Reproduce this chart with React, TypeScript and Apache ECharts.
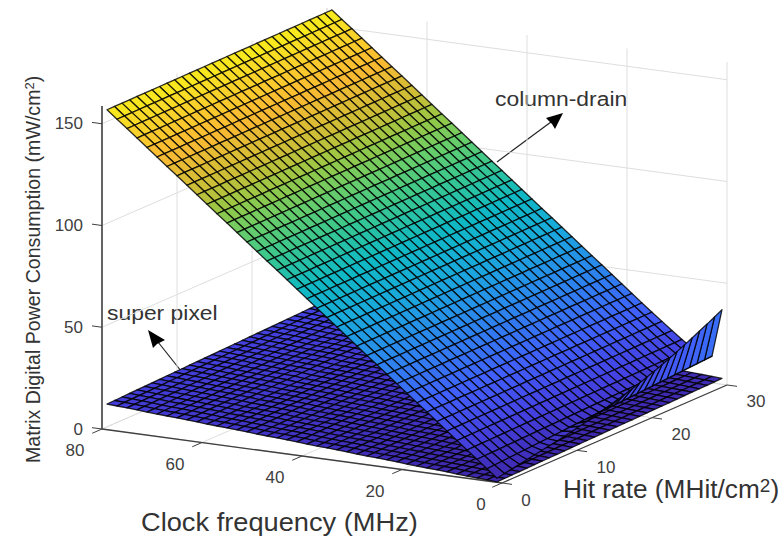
import React, { useEffect, useRef } from "react";
import * as echarts from "echarts";

const clockMesh = [1,3,5,7,9,11,13,15,17,19,21,23,25,27,29,31,33,35,37,39,41,43,45,47,49,51,53,55,57,59,61,63,65,67,69,71,73,75,77,79];
const hitMesh = [0,1,2,3,4,5,6,7,8,9,10,11,12,13,14,15,16,17,18,19,20,21,22,23,24,25,26,27,28,29,30];

// column-drain: value at hit 0 for every clock row, and its rise per unit of hit rate
const drainBase = [2.0,6.0,10,13.9,17.9,21.9,25.9,29.9,33.8,37.8,41.8,45.8,49.8,53.7,57.7,61.7,65.7,69.7,73.6,77.6,81.6,85.6,89.6,93.5,97.5,101.5,105.5,109.5,113.4,117.4,121.4,125.4,129.4,133.3,137.3,141.3,145.3,149.3,153.2,157.2];
const drainRise = [0,0.24,0.11,0.07,0.05,0.04,0.035,0.03,0.03,0.03,0.03,0.03,0.03,0.03,0.03,0.03,0.03,0.03,0.03,0.03,0.03,0.03,0.03,0.03,0.03,0.03,0.03,0.03,0.03,0.03,0.03,0.03,0.03,0.03,0.03,0.03,0.03,0.03,0.03,0.03];
// column-drain along the lowest clock row (the raised strip), by hit rate
const drainLowClock = [2,2.7,3.4,4.1,4.8,5.5,6.1,6.8,7.5,8.2,9,9.9,10.8,11.7,12.7,13.7,14.7,15.8,17,18.3,19.6,21,22.5,24,25.7,27.4,29.2,31,32.8,34.7,36.7];

// super pixel: value at hit 0 for every clock row, and its rise per unit of hit rate
const pixelBase = [0.2,0.5,0.8,1.1,1.4,1.8,2.1,2.4,2.7,3,3.4,3.7,4,4.3,4.6,5,5.3,5.6,5.9,6.2,6.6,6.9,7.2,7.5,7.8,8.2,8.5,8.8,9.1,9.4,9.8,10.1,10.4,10.7,11,11.3,11.7,12,12.3,12.6];
const pixelRise = [0.09,0.09,0.09,0.09,0.09,0.095,0.095,0.095,0.095,0.095,0.1,0.1,0.1,0.1,0.1,0.105,0.105,0.105,0.105,0.105,0.11,0.11,0.11,0.11,0.11,0.115,0.115,0.115,0.115,0.115,0.12,0.12,0.12,0.12,0.12,0.125,0.125,0.125,0.13,0.13];

const clockTicks = [80, 60, 40, 20, 0];
const hitTicks = [0, 10, 20, 30];
const powerTicks = [0, 50, 100, 150];
const powerTop = 158.7;

const colorStops: [number, number[]][] = [
  [0, [62, 38, 168]],
  [15, [68, 65, 225]],
  [30, [65, 95, 250]],
  [51, [40, 140, 235]],
  [65, [25, 170, 220]],
  [79, [15, 185, 195]],
  [93, [60, 200, 140]],
  [103, [105, 205, 105]],
  [112, [150, 200, 70]],
  [120, [200, 190, 55]],
  [135, [250, 185, 50]],
  [148, [248, 215, 40]],
  [160, [248, 250, 20]],
];

function colorOf(z: number) {
  for (let i = 1; i < colorStops.length; i++) {
    if (z <= colorStops[i][0]) {
      const [z0, a] = colorStops[i - 1];
      const [z1, b] = colorStops[i];
      const t = Math.max(0, (z - z0) / (z1 - z0));
      return `rgb(${a.map((v, k) => Math.round(v + (b[k] - v) * t)).join(",")})`;
    }
  }
  return "rgb(248,250,20)";
}

// orthographic view: clock, hit rate, power -> page position
const project = (c: number, h: number, z: number) => [
  502 - 5 * c + 7.5 * h,
  483 - 0.675 * c - 3.267 * h - 2.035 * z,
];

function buildCells(valueAt: (i: number, j: number) => number) {
  const cells: number[][] = [];
  for (let i = clockMesh.length - 2; i >= 0; i--) {
    for (let j = hitMesh.length - 2; j >= 0; j--) {
      cells.push([
        clockMesh[i], hitMesh[j], clockMesh[i + 1], hitMesh[j + 1],
        valueAt(i, j), valueAt(i + 1, j), valueAt(i + 1, j + 1), valueAt(i, j + 1),
      ]);
    }
  }
  return cells;
}

const drainValue = (i: number, j: number) =>
  i === 0 ? drainLowClock[j] : drainBase[i] + drainRise[i] * hitMesh[j];
const pixelValue = (i: number, j: number) => pixelBase[i] + pixelRise[i] * hitMesh[j];

const surfaceItem = (_: any, api: any) => {
  const c0 = api.value(0), h0 = api.value(1), c1 = api.value(2), h1 = api.value(3);
  const z = [api.value(4), api.value(5), api.value(6), api.value(7)];
  const pts = [
    project(c0, h0, z[0]),
    project(c1, h0, z[1]),
    project(c1, h1, z[2]),
    project(c0, h1, z[3]),
  ].map((p) => api.coord(p));
  return {
    type: "polygon",
    shape: { points: pts },
    style: { fill: colorOf(z[3]), stroke: "rgba(0,0,0,0.82)", lineWidth: 1.3, lineJoin: "round" },
  };
};

const frameItem = (_: any, api: any) => {
  const children: any[] = [];
  const seg = (a: number[], b: number[], stroke: string, lineWidth: number) => {
    const p = api.coord(project(a[0], a[1], a[2]));
    const q = api.coord(project(b[0], b[1], b[2]));
    children.push({ type: "line", shape: { x1: p[0], y1: p[1], x2: q[0], y2: q[1] }, style: { stroke, lineWidth } });
  };
  const label = (a: number[], dx: number, dy: number, text: string, align: string) => {
    const p = api.coord(project(a[0], a[1], a[2]));
    children.push({
      type: "text",
      x: p[0] + dx,
      y: p[1] + dy,
      style: { text, fill: "#404040", fontFamily: "Liberation Sans", fontSize: 17, align, verticalAlign: "middle" },
    });
  };
  const grid = "#dedede";
  const cMax = clockTicks[0];
  const hMax = hitTicks[hitTicks.length - 1];
  clockTicks.forEach((c) => {
    seg([c, 0, 0], [c, hMax, 0], grid, 1);
    seg([c, hMax, 0], [c, hMax, powerTop], grid, 1);
  });
  hitTicks.forEach((h) => {
    seg([0, h, 0], [cMax, h, 0], grid, 1);
    seg([cMax, h, 0], [cMax, h, powerTop], grid, 1);
  });
  powerTicks.forEach((z) => {
    seg([cMax, 0, z], [cMax, hMax, z], grid, 1);
    seg([cMax, hMax, z], [0, hMax, z], grid, 1);
  });
  const ink = "#404040";
  seg([cMax, 0, 0], [0, 0, 0], ink, 1.3);
  seg([0, 0, 0], [0, hMax, 0], ink, 1.3);
  seg([cMax, 0, 0], [cMax, 0, powerTop], ink, 1.6);
  clockTicks.forEach((c) => {
    seg([c, 0, 0], [c, -1.3, 0], ink, 1);
    label([c, 0, 0], c === 0 ? -21 : -27, 21.5, String(c), "center");
  });
  hitTicks.forEach((h) => {
    seg([0, h, 0], [-2, h, 0], ink, 1);
    label([0, h, 0], h === 0 ? 24 : 29, 17, String(h), "center");
  });
  powerTicks.forEach((z) => {
    seg([cMax, 0, z], [cMax + 2, 0, z], ink, 1);
    label([cMax, 0, z], -19, 0, String(z), "right");
  });
  return { type: "group", children };
};

const ink = "#333";
const font = "Liberation Sans";
const titleStyle = (text: string, fontSize: number) => ({
  text,
  fill: ink,
  fontFamily: font,
  fontSize,
  verticalAlign: "middle",
});
const richTitle = (before: string, after: string, fontSize: number, supSize: number) => ({
  text: `{t|${before}}{s|2}{t|${after}}`,
  verticalAlign: "middle",
  rich: {
    t: { fontFamily: font, fontSize, fill: ink, verticalAlign: "bottom" },
    s: { fontFamily: font, fontSize: supSize, fill: ink, verticalAlign: "top" },
  },
});

export default function App() {
  const ref = useRef<HTMLDivElement>(null);
  useEffect(() => {
    document.body.style.margin = "0";
    const chart = echarts.init(ref.current!, undefined, { renderer: "svg" });
    chart.setOption({
      animation: false,
      backgroundColor: "#fff",
      grid: { left: 0, right: 0, top: 0, bottom: 0 },
      xAxis: { type: "value", min: 0, max: 781, show: false },
      yAxis: { type: "value", min: 0, max: 537, inverse: true, show: false },
      series: [
        { type: "custom", name: "frame", clip: false, silent: true, renderItem: frameItem, data: [[0, 0]], encode: { x: 0, y: 1 } },
        { type: "custom", name: "super pixel", clip: false, silent: true, renderItem: surfaceItem, data: buildCells(pixelValue), encode: { x: 0, y: 1 } },
        { type: "custom", name: "column-drain", clip: false, silent: true, renderItem: surfaceItem, data: buildCells(drainValue), encode: { x: 0, y: 1 } },
      ],
      graphic: [
        { type: "text", x: 141, y: 522, scaleX: 1.09, style: titleStyle("Clock frequency (MHz)", 25) },
        { type: "text", x: 563, y: 489, scaleX: 1.05, style: richTitle("Hit rate (MHit/cm", ")", 25, 18) },
        { type: "text", x: 33, y: 463, rotation: Math.PI / 2, style: richTitle("Matrix Digital Power Consumption (mW/cm", ")", 19.6, 13) },
        { type: "text", x: 107, y: 313, scaleX: 1.09, style: titleStyle("super pixel", 21) },
        { type: "text", x: 495, y: 99, scaleX: 1.09, style: titleStyle("column-drain", 21) },
        { type: "line", shape: { x1: 497, y1: 162, x2: 555, y2: 119 }, style: { stroke: "#222", lineWidth: 1.2 } },
        { type: "polygon", shape: { points: [[563, 113], [546, 118], [552, 124], [555, 129]] }, style: { fill: "#000" } },
        { type: "line", shape: { x1: 197, y1: 391, x2: 154, y2: 337 }, style: { stroke: "#222", lineWidth: 1.2 } },
        { type: "polygon", shape: { points: [[148, 330], [165, 340], [157, 344], [153, 348]] }, style: { fill: "#000" } },
      ],
    });
    return () => chart.dispose();
  }, []);
  return <div ref={ref} style={{ position: "fixed", left: 0, top: 0, width: 781, height: 537 }} />;
}
